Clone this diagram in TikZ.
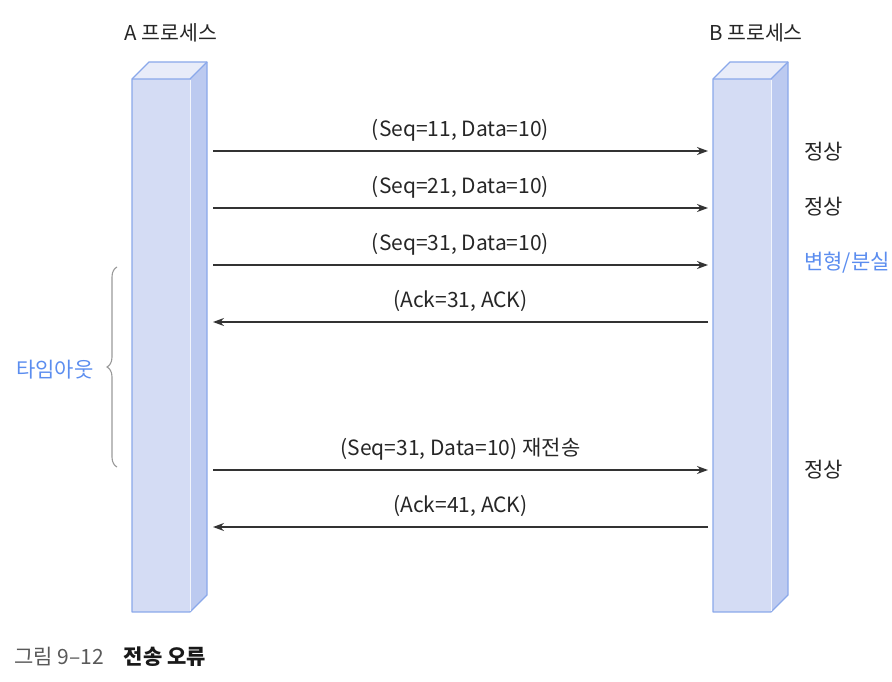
\documentclass[tikz,border=0pt]{standalone}
\usepackage{fontspec}
\setmainfont{Noto Sans CJK KR}
\usepackage{tikz}
\usetikzlibrary{calc}
\usetikzlibrary{decorations.pathreplacing}
\usetikzlibrary{arrows.meta}

\definecolor{barfront}{HTML}{D4DCF4}
\definecolor{barside}{HTML}{BCCAF0}
\definecolor{bartop}{HTML}{E8ECF9}
\definecolor{baredge}{HTML}{8AA8EA}
\definecolor{tblue}{HTML}{5B8DEF}
\definecolor{msgline}{HTML}{333333}

\tikzset{
  msg/.style={draw=msgline, line width=1.2pt, -{Stealth[length=11pt,width=8pt]}},
  lbl/.style={font=\fontsize{21}{24}\selectfont, text=black!85, inner sep=0pt},
  state/.style={font=\fontsize{21}{24}\selectfont, text=black!85, inner sep=0pt, anchor=west},
  head/.style={font=\fontsize{20.5}{24}\selectfont, text=black!85, inner sep=0pt}
}

\begin{document}
\begin{tikzpicture}[x=1pt, y=-1pt]

\useasboundingbox (0,0) rectangle (892,682);

% process bars
\foreach \bx/\nm in {132/A, 713/B} {
  \fill[barside] (\bx+58,79) -- (\bx+75,62) -- (\bx+75,595) -- (\bx+58,612) -- cycle;
  \fill[bartop] (\bx,79) -- (\bx+17,62) -- (\bx+75,62) -- (\bx+58,79) -- cycle;
  \fill[barfront] (\bx,79) rectangle (\bx+58,612);
  \draw[baredge, line width=1.3pt, line join=round] (\bx+58,612) -- (\bx,612) -- (\bx,79) -- (\bx+17,62) -- (\bx+75,62) -- (\bx+75,595) -- (\bx+58,612);
  \draw[baredge, line width=1.1pt] (\bx,79) -- (\bx+58,79) -- (\bx+75,62);
  \draw[white!70!barfront, line width=1pt] (\bx+58,80) -- (\bx+58,611);
}

\node[head] (hA) at (171,33) {A 프로세스};
\node[head] (hB) at (756,33) {B 프로세스};

% message end points
\coordinate (a1) at (213,151); \coordinate (b1) at (708,151);
\coordinate (a2) at (213,208); \coordinate (b2) at (708,208);
\coordinate (a3) at (213,265); \coordinate (b3) at (708,265);
\coordinate (a4) at (213,322); \coordinate (b4) at (708,322);
\coordinate (a5) at (213,470); \coordinate (b5) at (708,470);
\coordinate (a6) at (213,527); \coordinate (b6) at (708,527);

\draw[msg] (a1) -- (b1) node[lbl, midway, yshift=21pt] (m1) {(Seq=11, Data=10)};
\draw[msg] (a2) -- (b2) node[lbl, midway, yshift=21pt] (m2) {(Seq=21, Data=10)};
\draw[msg] (a3) -- (b3) node[lbl, midway, yshift=21pt] (m3) {(Seq=31, Data=10)};
\draw[msg] (b4) -- (a4) node[lbl, midway, yshift=21pt] (m4) {(Ack=31, ACK)};
\draw[msg] (a5) -- (b5) node[lbl, midway, yshift=21pt] (m5) {(Seq=31, Data=10) 재전송};
\draw[msg] (b6) -- (a6) node[lbl, midway, yshift=21pt] (m6) {(Ack=41, ACK)};

% states at B
\node[state] (s1) at (804,152) {정상};
\node[state] (s2) at (804,207) {정상};
\node[state, text=tblue] (s3) at (804,263) {변형/분실};
\node[state] (s5) at (804,470) {정상};

% timeout brace
\coordinate (t1) at (117,467);
\coordinate (t2) at (117,267);
\draw[black!40, line width=1.1pt, decorate, decoration={brace, amplitude=10pt}] (t1) -- (t2);
\node[lbl, text=tblue] (to) at (55,370) {타임아웃};

% caption
\node[inner sep=0pt, anchor=west, font=\fontsize{21}{24}\selectfont] (cap) at (14,657)
  {\textcolor{black!65}{그림 9–12}\hspace{20pt}\textbf{\textcolor{black!90}{전송 오류}}};

\end{tikzpicture}
\end{document}
